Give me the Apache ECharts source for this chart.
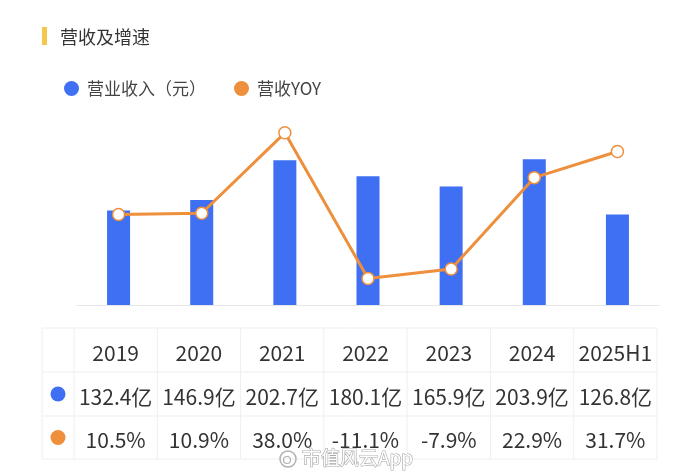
<!DOCTYPE html>
<html>
<head>
<meta charset="utf-8">
<script src="https://cdn.jsdelivr.net/npm/echarts@6/dist/echarts.min.js"></script>
<style>
html,body{margin:0;padding:0;background:#fff;}
#main{width:700px;height:475px;}
</style>
</head>
<body>
<div id="main"></div>
<script>
const categories = ['2019', '2020', '2021', '2022', '2023', '2024', '2025H1'];
const revenue = [132.4, 146.9, 202.7, 180.1, 165.9, 203.9, 126.8];
const yoy = [10.5, 10.9, 38.0, -11.1, -7.9, 22.9, 31.7];
const seriesNames = ['营业收入（元）', '营收YOY'];
const revenueLabels = revenue.map(v => v.toFixed(1) + '亿');
const yoyLabels = yoy.map(v => v.toFixed(1) + '%');

const BLUE = '#3f6ff3';
const ORANGE = '#ee8f3b';
const FONT = '"Noto Sans CJK SC", "Noto Sans", sans-serif';

const chart = echarts.init(document.getElementById('main'), null, {renderer: 'canvas'});

// table layout
const tLeft = 42, tRight = 657, firstCol = 32;
const colW = (tRight - tLeft - firstCol) / categories.length;
const rowTops = [328, 372, 416, 459];
const border = '#efefef';

const graphics = [];
// title accent bar
graphics.push({type: 'rect', shape: {x: 42, y: 27, width: 5, height: 18}, style: {fill: '#f6c64d'}});
// table borders
graphics.push({type: 'rect', shape: {x: tLeft, y: rowTops[0], width: tRight - tLeft, height: rowTops[3] - rowTops[0]}, style: {fill: 'none', stroke: border, lineWidth: 1}});
for (let r = 1; r < 3; r++) {
  graphics.push({type: 'line', shape: {x1: tLeft, y1: rowTops[r], x2: tRight, y2: rowTops[r]}, style: {stroke: border, lineWidth: 1}});
}
for (let c = 0; c < categories.length; c++) {
  const x = tLeft + firstCol + c * colW;
  graphics.push({type: 'line', shape: {x1: x, y1: rowTops[0], x2: x, y2: rowTops[3]}, style: {stroke: border, lineWidth: 1}});
}
const rows = [categories, revenueLabels, yoyLabels];
rows.forEach((arr, r) => {
  const cy = (rowTops[r] + rowTops[r + 1]) / 2 + 3;
  arr.forEach((txt, c) => {
    graphics.push({
      type: 'text',
      x: tLeft + firstCol + c * colW + colW / 2,
      y: cy,
      style: {text: txt, fill: '#333', font: '21px ' + FONT, textAlign: 'center', textVerticalAlign: 'middle'}
    });
  });
});
// row markers
[BLUE, ORANGE].forEach((col, i) => {
  graphics.push({type: 'circle', shape: {cx: tLeft + firstCol / 2, cy: (rowTops[i + 1] + rowTops[i + 2]) / 2, r: 7.5}, style: {fill: col}, z: 10});
});
// watermark
graphics.push({type: 'circle', shape: {cx: 288, cy: 459, r: 8}, style: {fill: 'none', stroke: '#b0b0b0', lineWidth: 1.5}, z: 20});
graphics.push({type: 'circle', shape: {cx: 287, cy: 460, r: 3.5}, style: {fill: 'none', stroke: '#b0b0b0', lineWidth: 1.2}, z: 20});
graphics.push({
  type: 'text', x: 302, y: 458, z: 20,
  style: {text: '市值风云App', fill: '#ffffff', stroke: '#a8a8a8', lineWidth: 1.2, font: '19px ' + FONT, textVerticalAlign: 'middle'}
});

const option = {
  backgroundColor: '#ffffff',
  animation: false,
  title: {
    text: '营收及增速',
    left: 55, top: 23,
    textStyle: {fontSize: 18, fontWeight: 'normal', color: '#333', fontFamily: FONT}
  },
  legend: {
    left: 59, top: 75,
    icon: 'circle',
    itemWidth: 15, itemHeight: 15,
    itemGap: 28,
    textStyle: {fontSize: 17, color: '#444', fontFamily: FONT, padding: [0, 0, 0, 3]},
    data: [
      {name: seriesNames[0], itemStyle: {color: BLUE}},
      {name: seriesNames[1], itemStyle: {color: ORANGE, borderWidth: 0}}
    ]
  },
  grid: {left: 77, right: 41, top: 115, height: 190},
  xAxis: {
    type: 'category',
    data: categories,
    axisLine: {lineStyle: {color: '#e6e6e6', width: 1}},
    axisTick: {show: false},
    axisLabel: {show: false}
  },
  yAxis: [
    {type: 'value', min: 0, max: 266, show: false, splitLine: {show: false}},
    {type: 'value', min: -20, max: 44, show: false, splitLine: {show: false}}
  ],
  series: [
    {
      name: seriesNames[0], type: 'bar', data: revenue, barWidth: 23,
      itemStyle: {color: BLUE}
    },
    {
      name: seriesNames[1], type: 'line', yAxisIndex: 1, data: yoy,
      symbol: 'circle', symbolSize: 12,
      lineStyle: {color: ORANGE, width: 3},
      itemStyle: {color: '#ffffff', borderColor: ORANGE, borderWidth: 1.5},
      z: 5
    }
  ],
  graphic: graphics
};
chart.setOption(option);
</script>
</body>
</html>
